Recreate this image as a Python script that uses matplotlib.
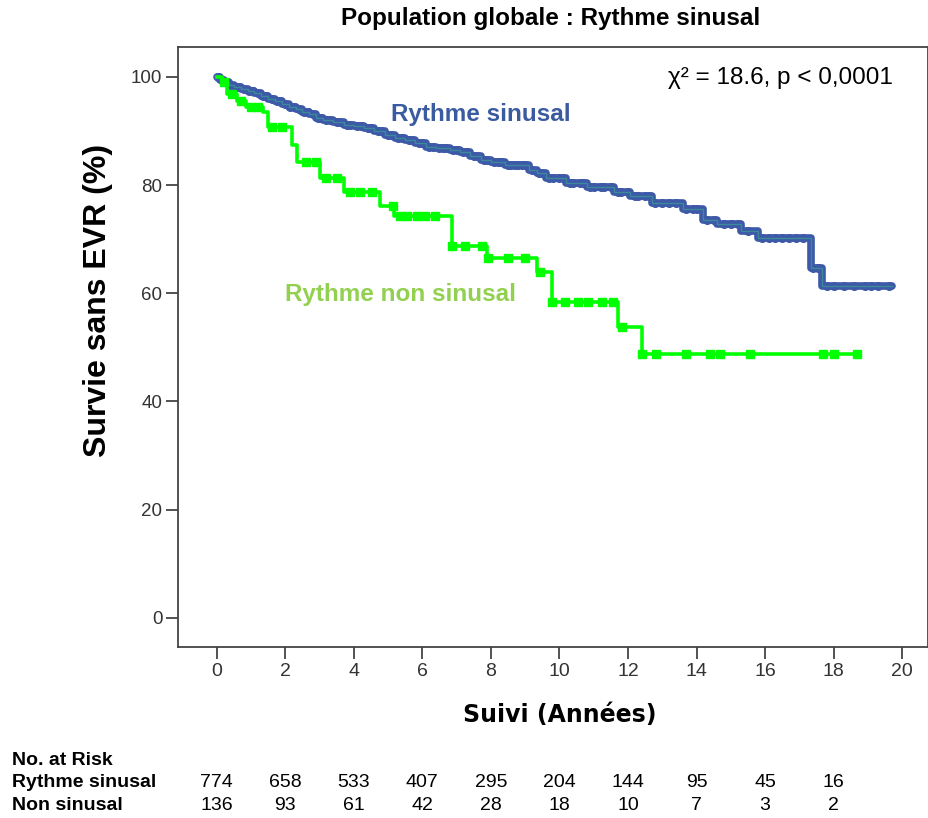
import numpy as np
import matplotlib
matplotlib.use('Agg')
import matplotlib.pyplot as plt
import matplotlib.transforms as mtransforms

# Kaplan-Meier steps, sinus rhythm group (years, % event-free)
sinus_t = [0, 0.1, 0.2, 0.35, 0.5, 0.7, 0.9, 1.1, 1.3, 1.5, 1.7, 1.9, 2.1, 2.3, 2.5,
           2.7, 2.9, 3.1, 3.4, 3.7, 4.0, 4.3, 4.6, 4.9, 5.2, 5.5, 5.8, 6.1, 6.4, 6.8,
           7.1, 7.4, 7.7, 8.0, 8.4, 9.1, 9.35, 9.6, 10.2, 10.8, 11.6, 12.05, 12.7,
           13.6, 14.2, 14.6, 15.3, 15.8, 17.35, 17.65]
sinus_s = [100, 99.5, 99.0, 98.6, 98.2, 97.8, 97.4, 97.0, 96.5, 96.0, 95.5, 95.0, 94.5,
           94.0, 93.6, 93.1, 92.5, 92.0, 91.6, 91.2, 91.0, 90.5, 90.0, 89.3, 88.8, 88.3,
           87.7, 87.1, 86.8, 86.5, 86.1, 85.3, 84.7, 84.2, 83.8, 82.8, 82.2, 81.4, 80.4,
           79.7, 78.8, 77.9, 76.7, 75.5, 73.6, 72.9, 71.6, 70.3, 64.7, 61.4]
sinus_end = 19.7
sinus_cens = [0.05, 0.15, 0.25, 0.4, 0.55, 0.65, 0.8, 0.95, 1.05, 1.2, 1.35, 1.45, 1.6,
              1.75, 1.85, 2.0, 2.15, 2.25, 2.4, 2.55, 2.65, 2.8, 2.95, 3.05, 3.2, 3.3,
              3.5, 3.6, 3.8, 3.9, 4.1, 4.2, 4.4, 4.5, 4.7, 4.8, 5.0, 5.1, 5.3, 5.4, 5.6,
              5.7, 5.9, 6.0, 6.2, 6.3, 6.5, 6.6, 6.7, 6.9, 7.0, 7.2, 7.3, 7.5, 7.6, 7.8,
              7.9, 8.1, 8.2, 8.3, 8.5, 8.6, 8.7, 8.8, 8.9, 9.0, 9.2, 9.4, 9.5, 9.7, 9.8,
              10.0, 10.1, 10.3, 10.4, 10.6, 10.7, 10.9, 11.0, 11.2, 11.3, 11.5, 11.7,
              11.8, 12.0, 12.2, 12.3, 12.5, 12.6, 12.8, 13.0, 13.2, 13.4, 13.7, 13.9,
              14.0, 14.3, 14.5, 14.8, 15.0, 15.2, 15.5, 15.9, 16.1, 16.3, 16.5, 16.7,
              16.9, 17.1, 17.4, 17.55, 17.8, 18.0, 18.3, 18.6, 18.9, 19.1, 19.3, 19.6]

# Non-sinus rhythm group
nonsinus_t = [0, 0.15, 0.3, 0.6, 0.85, 1.35, 1.5, 2.2, 2.35, 3.0, 3.7, 4.77, 5.16,
              6.86, 7.9, 9.34, 9.78, 11.7, 12.4]
nonsinus_s = [100, 99.0, 96.8, 95.6, 94.5, 93.5, 90.8, 87.5, 84.3, 81.4, 78.8, 76.1,
              74.2, 68.8, 66.6, 64.0, 58.3, 53.7, 48.7]
nonsinus_end = 18.7
nonsinus_cens = [0.2, 0.45, 0.7, 1.0, 1.2, 1.6, 1.9, 2.6, 2.9, 3.2, 3.5, 3.9, 4.19,
                 4.54, 5.15, 5.36, 5.56, 5.85, 6.08, 6.38, 6.87, 7.25, 7.75, 7.92, 8.5,
                 9.0, 9.43, 9.78, 10.16, 10.54, 10.83, 11.24, 11.56, 11.82, 12.4,
                 12.81, 13.68, 14.38, 14.67, 15.55, 17.7, 18.0, 18.68]

risk_times = [0, 2, 4, 6, 8, 10, 12, 14, 16, 18]
risk_sinus = [774, 658, 533, 407, 295, 204, 144, 95, 45, 16]
risk_nonsinus = [136, 93, 61, 42, 28, 18, 10, 7, 3, 2]

blue = '#3D59A8'
blue_mid = '#3A8A9A'
green = '#00FF00'
arial = ['Liberation Sans', 'DejaVu Sans']


def step_value(times, surv, x):
    idx = np.searchsorted(np.asarray(times), np.asarray(x), side='right') - 1
    return np.asarray(surv)[np.clip(idx, 0, len(surv) - 1)]


fig = plt.figure(figsize=(9.29, 8.18), dpi=100)
ax = fig.add_axes([0.1919, 0.2087, 0.807, 0.7342])

# sinus curve: thick blue step with a thin teal core and dense censor dots
st = list(sinus_t) + [sinus_end]
ss = list(sinus_s) + [sinus_s[-1]]
ax.step(st, ss, where='post', color=blue, lw=5.5, solid_capstyle='round', zorder=3)
ax.plot(sinus_cens, step_value(sinus_t, sinus_s, sinus_cens), 'o', color=blue,
        ms=5.5, mec=blue, zorder=4)
ax.step(st, ss, where='post', color=blue_mid, lw=1.0, zorder=5)

# non-sinus curve: lime step with square censor marks
nt = list(nonsinus_t) + [nonsinus_end]
ns = list(nonsinus_s) + [nonsinus_s[-1]]
ax.step(nt, ns, where='post', color=green, lw=2.6, zorder=6)
ax.plot(nonsinus_cens, step_value(nonsinus_t, nonsinus_s, nonsinus_cens), 's',
        color=green, ms=5.5, zorder=7)

ax.set_xlim(-1.12, 20.75)
ax.set_ylim(-5.47, 105.6)
ax.set_xticks(np.arange(0, 21, 2))
ax.set_yticks(np.arange(0, 101, 20))
for sp in ax.spines.values():
    sp.set_color('#444444')
    sp.set_linewidth(1.3)
ax.tick_params(axis='both', direction='out', length=8.5, width=1.3, color='#444444',
               labelcolor='#333333', pad=3)
for lab in ax.get_xticklabels():
    lab.set_fontfamily(arial)
    lab.set_fontsize(14)
for lab in ax.get_yticklabels():
    lab.set_fontfamily(arial)
    lab.set_fontsize(13.5)

ax.text(13.17, 99.8, '\u03c7\u00b2 = 18.6, p < 0,0001', fontsize=17.5, family=arial,
        va='center', ha='left', color='black')
ax.text(5.08, 93.0, 'Rythme sinusal', fontsize=17.5, fontweight='bold', family=arial,
        va='center', ha='left', color='#3A5BA0')
ax.text(2.0, 59.7, 'Rythme non sinusal', fontsize=17.5, fontweight='bold', family=arial,
        va='center', ha='left', color='#92D050')

fig.text(0.593, 0.977, 'Population globale : Rythme sinusal', fontsize=17.5,
         fontweight='bold', family=arial, ha='center', va='center')
fig.text(0.105, 0.633, 'Survie sans EVR (%)', fontsize=23, fontweight='bold',
         family=arial, rotation=90, ha='center', va='center')
fig.text(0.603, 0.126, 'Suivi (Années)', fontsize=17, fontweight='bold',
         family=['DejaVu Sans'], ha='center', va='center')

# number at risk table below the axis
trans = mtransforms.blended_transform_factory(ax.transData, fig.transFigure)
fig.text(0.013, 0.0709, 'No. at Risk', fontsize=14, fontweight='bold', family=arial,
         va='center')
fig.text(0.013, 0.0428, 'Rythme sinusal', fontsize=14, fontweight='bold',
         family=arial, va='center')
fig.text(0.013, 0.0147, 'Non sinusal', fontsize=14, fontweight='bold', family=arial,
         va='center')
for t, a, b in zip(risk_times, risk_sinus, risk_nonsinus):
    ax.text(t, 0.0428, str(a), transform=trans, fontsize=14, family=arial,
            ha='center', va='center')
    ax.text(t, 0.0147, str(b), transform=trans, fontsize=14, family=arial,
            ha='center', va='center')

fig.savefig('out.png', dpi=100)
